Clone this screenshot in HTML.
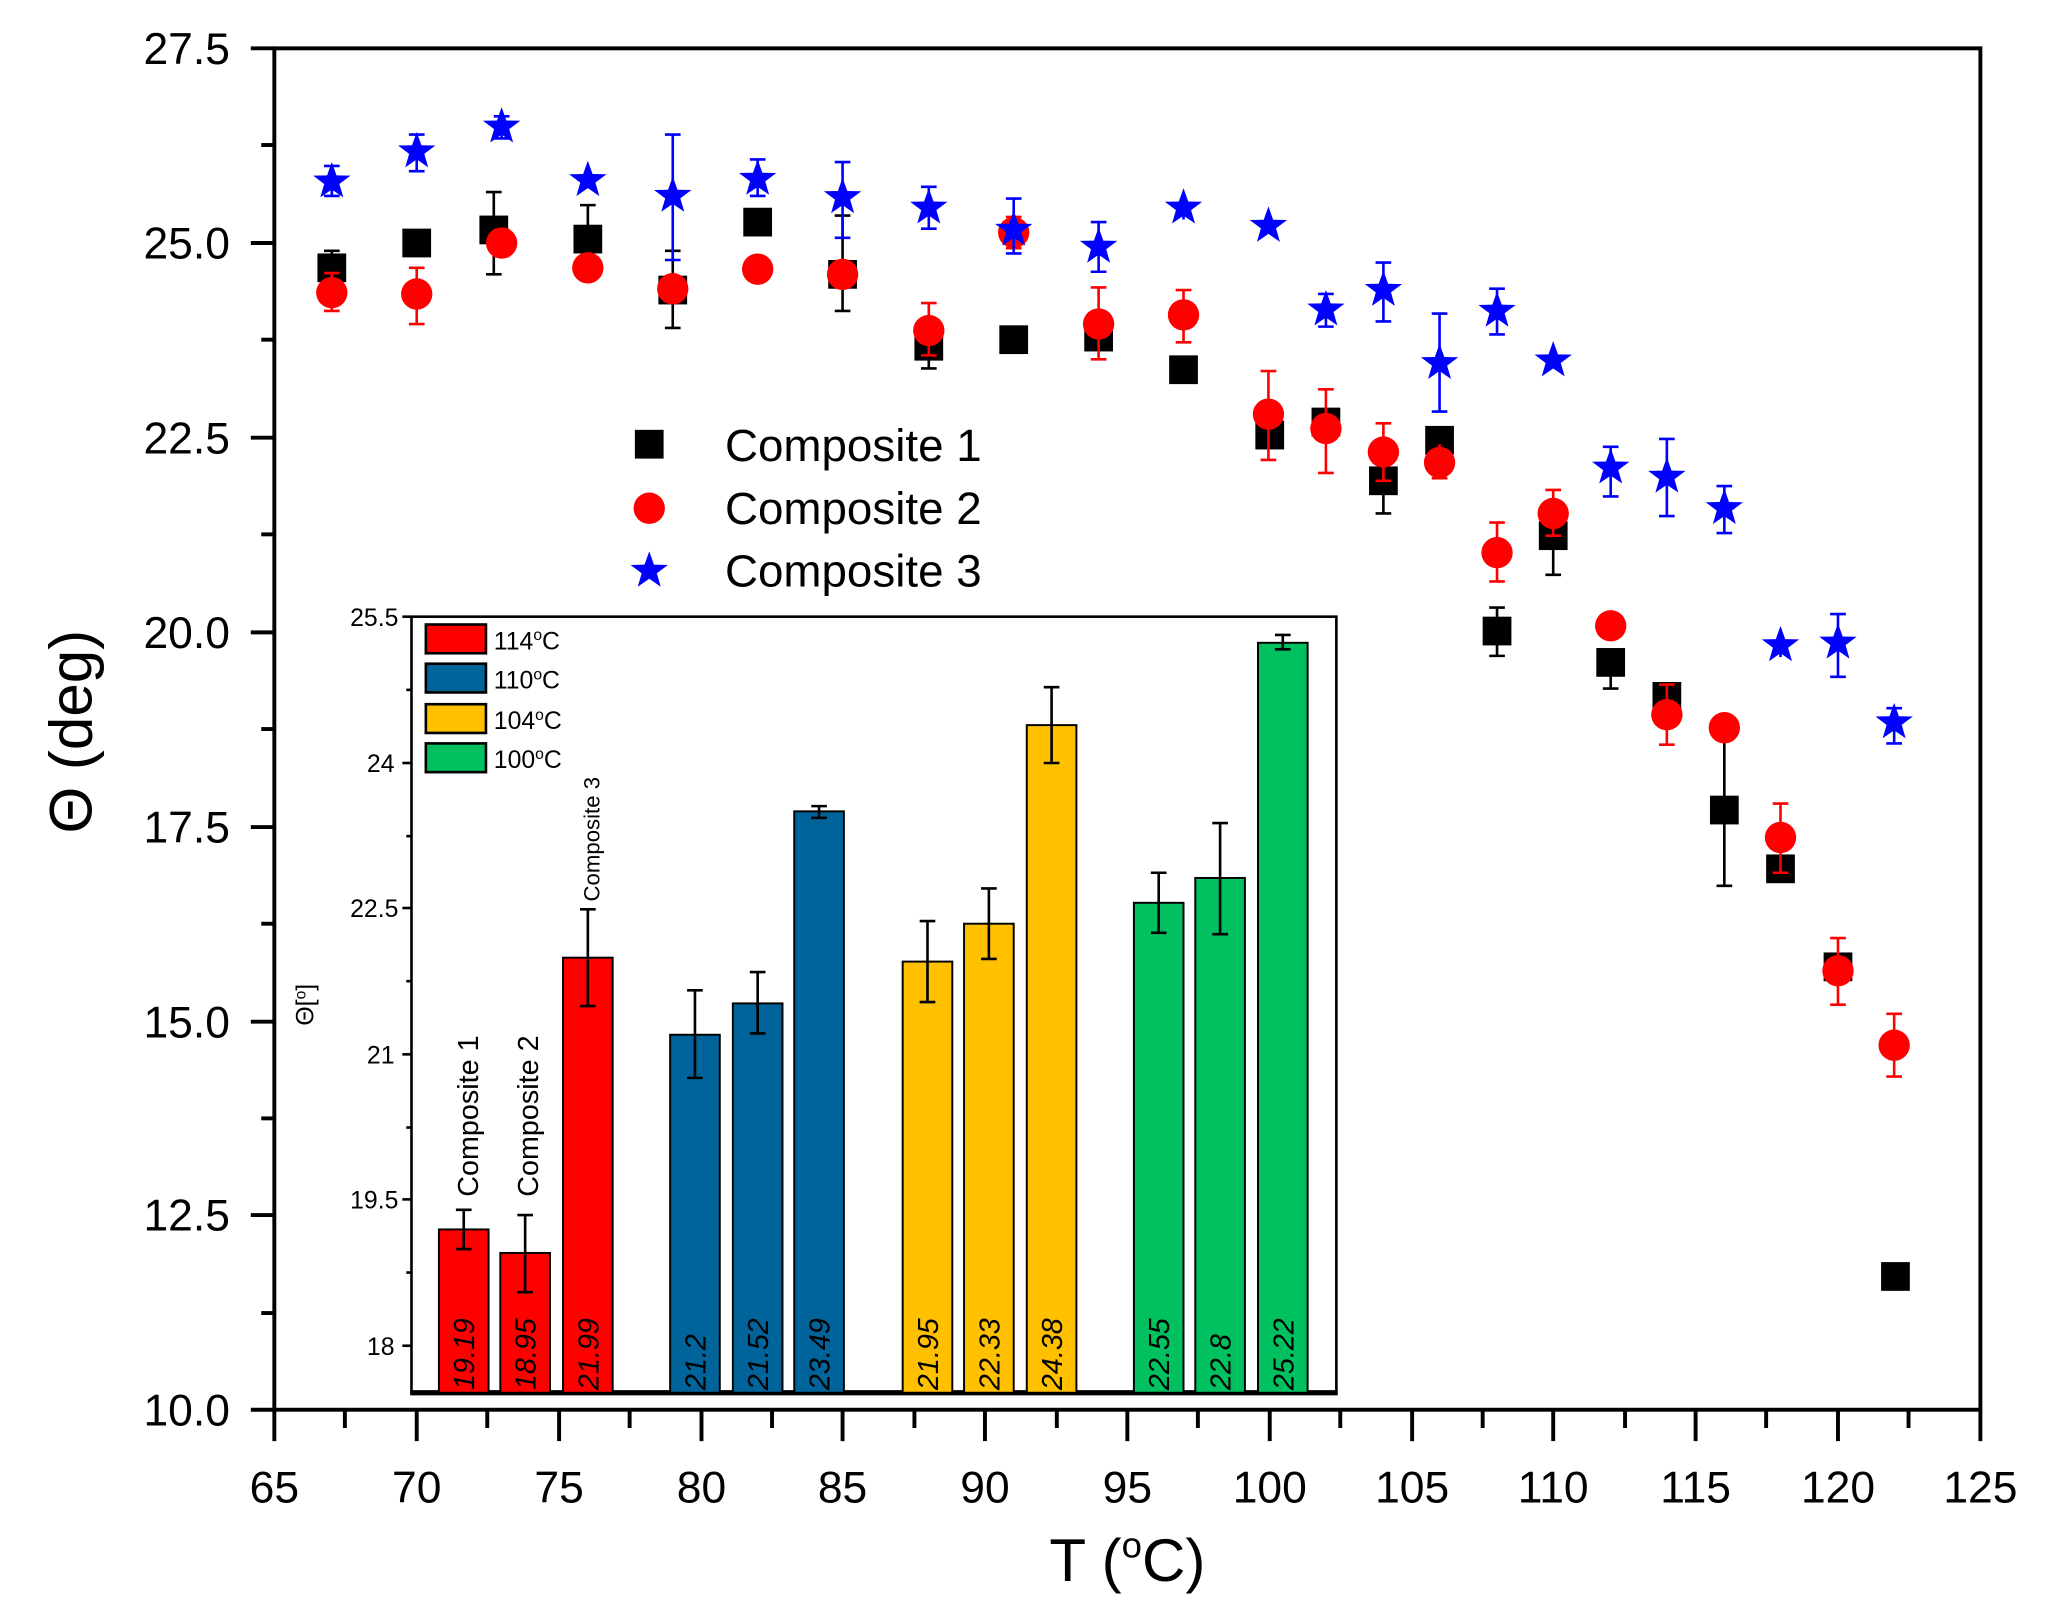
<!DOCTYPE html>
<html><head><style>html,body{margin:0;padding:0;background:#fff}svg{display:block}</style></head>
<body>
<svg width="2047" height="1624" viewBox="0 0 1567 1243" preserveAspectRatio="none" xmlns="http://www.w3.org/2000/svg" font-family="Liberation Sans, sans-serif">
<defs>
<path id="st" d="M0,-15 L3.6,-4.8 14.3,-4.6 5.8,1.8 8.8,12.1 0,6 -8.8,12.1 -5.8,1.8 -14.3,-4.6 -3.6,-4.8Z"/>
</defs>
<rect width="1567" height="1243" fill="#fff"/>
<rect x="210" y="37" width="1306" height="1042" fill="none" stroke="#000" stroke-width="3"/>
<g stroke="#000" stroke-width="3">
<line x1="192" y1="37" x2="210" y2="37"/><line x1="200" y1="111" x2="210" y2="111"/>
<line x1="192" y1="186" x2="210" y2="186"/><line x1="200" y1="260" x2="210" y2="260"/>
<line x1="192" y1="335" x2="210" y2="335"/><line x1="200" y1="409" x2="210" y2="409"/>
<line x1="192" y1="484" x2="210" y2="484"/><line x1="200" y1="558" x2="210" y2="558"/>
<line x1="192" y1="633" x2="210" y2="633"/><line x1="200" y1="707" x2="210" y2="707"/>
<line x1="192" y1="782" x2="210" y2="782"/><line x1="200" y1="856" x2="210" y2="856"/>
<line x1="192" y1="930" x2="210" y2="930"/><line x1="200" y1="1005" x2="210" y2="1005"/>
<line x1="192" y1="1079" x2="210" y2="1079"/>
</g>
<g font-size="34" text-anchor="end" fill="#000">
<text x="176" y="49">27.5</text><text x="176" y="198">25.0</text><text x="176" y="347">22.5</text>
<text x="176" y="496">20.0</text><text x="176" y="645">17.5</text><text x="176" y="794">15.0</text>
<text x="176" y="942">12.5</text><text x="176" y="1091">10.0</text>
</g>
<g font-size="34" text-anchor="middle" fill="#000">
<text x="210" y="1150">65</text><text x="319" y="1150">70</text><text x="428" y="1150">75</text>
<text x="537" y="1150">80</text><text x="645" y="1150">85</text><text x="754" y="1150">90</text>
<text x="863" y="1150">95</text><text x="972" y="1150">100</text><text x="1081" y="1150">105</text>
<text x="1189" y="1150">110</text><text x="1298" y="1150">115</text><text x="1407" y="1150">120</text>
<text x="1516" y="1150">125</text>
</g>
<text x="863" y="1210" font-size="46" text-anchor="middle">T (<tspan font-size="28" dy="-18">o</tspan><tspan dy="18">C)</tspan></text>
<text transform="translate(70,560) rotate(-90)" font-size="46" text-anchor="middle">Θ (deg)</text>

<rect x="315" y="472" width="708" height="594" fill="#fff" stroke="#000" stroke-width="2"/>
<line x1="314" y1="1066" x2="1024" y2="1066" stroke="#000" stroke-width="4"/>
<g stroke="#000" stroke-width="2">
<line x1="308" y1="472" x2="315" y2="472"/><line x1="311" y1="528" x2="315" y2="528"/>
<line x1="308" y1="584" x2="315" y2="584"/><line x1="311" y1="640" x2="315" y2="640"/>
<line x1="308" y1="695" x2="315" y2="695"/><line x1="311" y1="751" x2="315" y2="751"/>
<line x1="308" y1="807" x2="315" y2="807"/><line x1="311" y1="863" x2="315" y2="863"/>
<line x1="308" y1="918" x2="315" y2="918"/><line x1="311" y1="974" x2="315" y2="974"/>
<line x1="308" y1="1030" x2="315" y2="1030"/>
</g>
<g font-size="19" text-anchor="end">
<text x="305" y="479">25.5</text><text x="302" y="591">24</text><text x="305" y="702">22.5</text>
<text x="302" y="814">21</text><text x="305" y="925">19.5</text><text x="302" y="1037">18</text>
</g>
<text transform="translate(240,769) rotate(-90)" font-size="19" text-anchor="middle">Θ[<tspan font-size="12" dy="-6">o</tspan><tspan dy="6">]</tspan></text>
<g stroke="#000" stroke-width="1.5">
<rect x="336" y="941" width="38" height="125" fill="#ff0000"/>
<rect x="383" y="959" width="38" height="107" fill="#ff0000"/>
<rect x="431" y="733" width="38" height="333" fill="#ff0000"/>
<rect x="513" y="792" width="38" height="274" fill="#00639a"/>
<rect x="561" y="768" width="38" height="298" fill="#00639a"/>
<rect x="608" y="621" width="38" height="445" fill="#00639a"/>
<rect x="691" y="736" width="38" height="330" fill="#ffc000"/>
<rect x="738" y="707" width="38" height="359" fill="#ffc000"/>
<rect x="786" y="555" width="38" height="511" fill="#ffc000"/>
<rect x="868" y="691" width="38" height="375" fill="#00c060"/>
<rect x="915" y="672" width="38" height="394" fill="#00c060"/>
<rect x="963" y="492" width="38" height="574" fill="#00c060"/>
</g>
<g stroke="#000" stroke-width="2" fill="none">
<path d="M355,926V956M349,926h12M349,956h12"/>
<path d="M402,930V989M396,930h12M396,989h12"/>
<path d="M450,696V770M444,696h12M444,770h12"/>
<path d="M532,758V825M526,758h12M526,825h12"/>
<path d="M580,744V791M574,744h12M574,791h12"/>
<path d="M627,617V626M621,617h12M621,626h12"/>
<path d="M710,705V767M704,705h12M704,767h12"/>
<path d="M757,680V734M751,680h12M751,734h12"/>
<path d="M805,526V584M799,526h12M799,584h12"/>
<path d="M887,668V714M881,668h12M881,714h12"/>
<path d="M934,630V715M928,630h12M928,715h12"/>
<path d="M982,486V497M976,486h12M976,497h12"/>
</g>
<g font-size="22" font-style="italic" fill="#000">
<text transform="translate(363,1064) rotate(-90)">19.19</text>
<text transform="translate(410,1064) rotate(-90)">18.95</text>
<text transform="translate(458,1064) rotate(-90)">21.99</text>
<text transform="translate(540,1064) rotate(-90)">21.2</text>
<text transform="translate(588,1064) rotate(-90)">21.52</text>
<text transform="translate(635,1064) rotate(-90)">23.49</text>
<text transform="translate(718,1064) rotate(-90)">21.95</text>
<text transform="translate(765,1064) rotate(-90)">22.33</text>
<text transform="translate(813,1064) rotate(-90)">24.38</text>
<text transform="translate(895,1064) rotate(-90)">22.55</text>
<text transform="translate(942,1064) rotate(-90)">22.8</text>
<text transform="translate(990,1064) rotate(-90)">25.22</text>
</g>
<text transform="translate(366,916) rotate(-90)" font-size="22">Composite 1</text>
<text transform="translate(412,916) rotate(-90)" font-size="22">Composite 2</text>
<text transform="translate(459,690) rotate(-90)" font-size="17">Composite 3</text>
<g stroke="#000" stroke-width="2">
<rect x="326" y="478" width="46" height="22" fill="#ff0000"/>
<rect x="326" y="508" width="46" height="22" fill="#00639a"/>
<rect x="326" y="539" width="46" height="22" fill="#ffc000"/>
<rect x="326" y="569" width="46" height="22" fill="#00c060"/>
</g>
<g font-size="19">
<text x="378" y="497">114<tspan font-size="12" dy="-7">o</tspan><tspan dy="7">C</tspan></text>
<text x="378" y="527">110<tspan font-size="12" dy="-7">o</tspan><tspan dy="7">C</tspan></text>
<text x="378" y="558">104<tspan font-size="12" dy="-7">o</tspan><tspan dy="7">C</tspan></text>
<text x="378" y="588">100<tspan font-size="12" dy="-7">o</tspan><tspan dy="7">C</tspan></text>
</g>

<g stroke="#000" stroke-width="2" fill="none">
<path d="M254,192V218M248,192h12M319,178V194M378,147V210M372,147h12M372,210h12M450,157V198M444,157h12M515,192V251M509,192h12M509,251h12M645,165V238M639,165h12M639,238h12M711,255V282M705,282h12M1059,350V393M1053,393h12M1189,395V440M1183,440h12M1320,560V678M1314,678h12M1146,465V502M1140,465h12M1140,502h12M1233,498V527M1227,527h12M580,160V180M776,250V270M841,250V268"/>
</g>
<g fill="#000">
<rect x="243" y="194" width="22" height="22"/><rect x="308" y="175" width="22" height="22"/>
<rect x="367" y="165" width="22" height="22"/><rect x="439" y="172" width="22" height="22"/>
<rect x="504" y="211" width="22" height="22"/><rect x="569" y="159" width="22" height="22"/>
<rect x="634" y="199" width="22" height="22"/><rect x="700" y="254" width="22" height="22"/>
<rect x="765" y="249" width="22" height="22"/><rect x="830" y="247" width="22" height="22"/>
<rect x="895" y="272" width="22" height="22"/><rect x="961" y="322" width="22" height="22"/>
<rect x="1004" y="312" width="22" height="22"/><rect x="1048" y="357" width="22" height="22"/>
<rect x="1091" y="326" width="22" height="22"/><rect x="1135" y="472" width="22" height="22"/>
<rect x="1178" y="399" width="22" height="22"/><rect x="1222" y="496" width="22" height="22"/>
<rect x="1265" y="522" width="22" height="22"/><rect x="1309" y="609" width="22" height="22"/>
<rect x="1352" y="654" width="22" height="22"/><rect x="1396" y="729" width="22" height="22"/>
<rect x="1440" y="966" width="22" height="22"/>
</g>
<g stroke="#f00" stroke-width="2" fill="none">
<path d="M254,209V238M248,209h12M248,238h12M319,205V248M313,205h12M313,248h12M384,176V196M378,176h12M378,196h12M711,232V272M705,232h12M705,272h12M841,220V275M835,220h12M835,275h12M906,222V262M900,222h12M900,262h12M971,284V352M965,284h12M965,352h12M1015,298V362M1009,298h12M1009,362h12M1059,324V368M1053,324h12M1053,368h12M1102,340V366M1096,366h12M1146,400V445M1140,400h12M1140,445h12M1189,375V410M1183,375h12M1183,410h12M1276,524V570M1270,524h12M1270,570h12M1363,615V668M1357,615h12M1357,668h12M1407,718V769M1401,718h12M1401,769h12M1450,776V824M1444,776h12M1444,824h12M776,166V190M770,166h12M770,190h12"/>
</g>
<g fill="#f00">
<circle cx="254" cy="224" r="12"/><circle cx="319" cy="225" r="12"/><circle cx="384" cy="186" r="12"/>
<circle cx="450" cy="205" r="12"/><circle cx="515" cy="221" r="12"/><circle cx="580" cy="206" r="12"/>
<circle cx="645" cy="210" r="12"/><circle cx="711" cy="253" r="12"/><circle cx="776" cy="178" r="12"/>
<circle cx="841" cy="248" r="12"/><circle cx="906" cy="241" r="12"/><circle cx="971" cy="317" r="12"/>
<circle cx="1015" cy="328" r="12"/><circle cx="1059" cy="346" r="12"/><circle cx="1102" cy="354" r="12"/>
<circle cx="1146" cy="423" r="12"/><circle cx="1189" cy="393" r="12"/><circle cx="1233" cy="479" r="12"/>
<circle cx="1276" cy="547" r="12"/><circle cx="1320" cy="557" r="12"/><circle cx="1363" cy="641" r="12"/>
<circle cx="1407" cy="743" r="12"/><circle cx="1450" cy="800" r="12"/>
</g>
<g stroke="#00f" stroke-width="2" fill="none">
<path d="M254,127V150M248,127h12M248,150h12M319,103V131M313,103h12M313,131h12M384,89V106M378,89h12M378,106h12M515,103V199M509,103h12M509,199h12M580,122V150M574,122h12M574,150h12M645,124V182M639,124h12M639,182h12M711,143V175M705,143h12M705,175h12M776,152V194M770,152h12M770,194h12M841,170V208M835,170h12M835,208h12M906,150V168M1015,225V250M1009,225h12M1009,250h12M1059,201V246M1053,201h12M1053,246h12M1102,240V315M1096,240h12M1096,315h12M1146,221V256M1140,221h12M1140,256h12M1233,342V380M1227,342h12M1227,380h12M1276,336V395M1270,336h12M1270,395h12M1320,372V408M1314,372h12M1314,408h12M1363,486V503M1407,470V518M1401,470h12M1401,518h12M1450,542V569M1444,542h12M1444,569h12"/>
</g>
<g fill="#00f">
<use href="#st" x="254" y="139"/><use href="#st" x="319" y="116"/><use href="#st" x="384" y="97"/>
<use href="#st" x="450" y="138"/><use href="#st" x="515" y="150"/><use href="#st" x="580" y="137"/>
<use href="#st" x="645" y="151"/><use href="#st" x="711" y="159"/><use href="#st" x="776" y="176"/>
<use href="#st" x="841" y="189"/><use href="#st" x="906" y="159"/><use href="#st" x="971" y="173"/>
<use href="#st" x="1015" y="237"/><use href="#st" x="1059" y="222"/><use href="#st" x="1102" y="278"/>
<use href="#st" x="1146" y="238"/><use href="#st" x="1189" y="276"/><use href="#st" x="1233" y="358"/>
<use href="#st" x="1276" y="365"/><use href="#st" x="1320" y="389"/><use href="#st" x="1363" y="494"/>
<use href="#st" x="1407" y="492"/><use href="#st" x="1450" y="553"/>
</g>
<rect x="486" y="329" width="22" height="22" fill="#000"/>
<circle cx="497" cy="389" r="12" fill="#f00"/>
<use href="#st" x="497" y="437" fill="#00f"/>
<g font-size="35">
<text x="555" y="353">Composite 1</text>
<text x="555" y="401">Composite 2</text>
<text x="555" y="449">Composite 3</text>
</g>
<g stroke="#000" stroke-width="3">
<path d="M210,1079v24M264,1079v14M319,1079v24M373,1079v14M428,1079v24M482,1079v14M537,1079v24M591,1079v14M645,1079v24M700,1079v14M754,1079v24M809,1079v14M863,1079v24M917,1079v14M972,1079v24M1026,1079v14M1081,1079v24M1135,1079v14M1189,1079v24M1244,1079v14M1298,1079v24M1352,1079v14M1407,1079v24M1461,1079v14M1516,1079v24"/>
</g>
</svg>
</body></html>
